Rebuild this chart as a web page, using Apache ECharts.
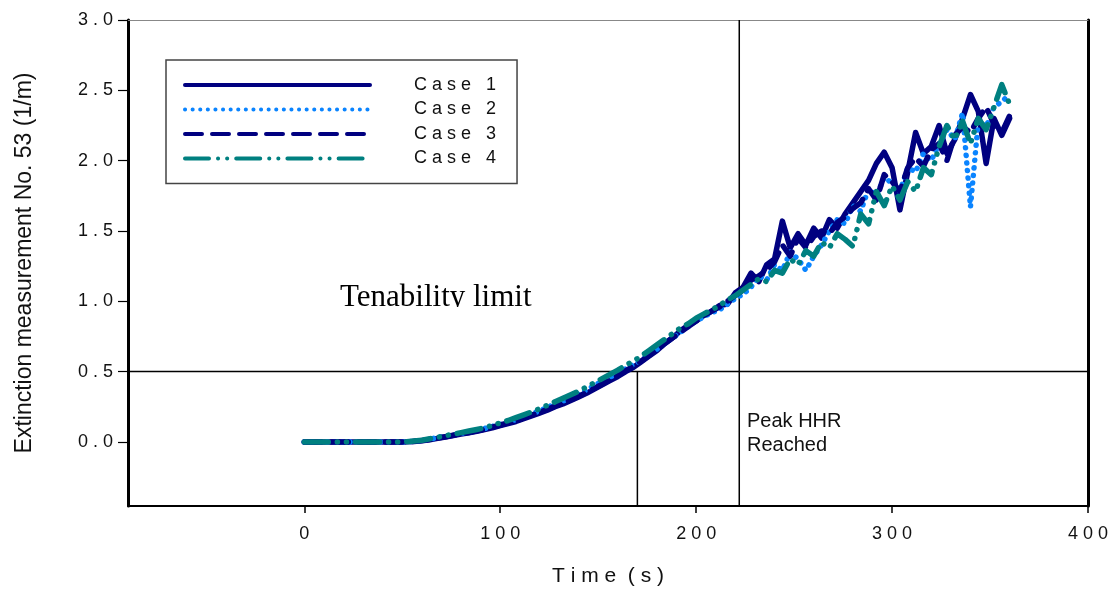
<!DOCTYPE html>
<html>
<head>
<meta charset="utf-8">
<script src="https://cdn.jsdelivr.net/npm/echarts@6/dist/echarts.min.js"></script>
<style>
html,body{margin:0;padding:0;background:#fff;}
#chart{width:1112px;height:592px;}
</style>
</head>
<body>
<div id="chart"></div>
<script>
// ---- data ----
const times = [0,4,8,12,16,20,24,28,32,36,40,44,48,52,56,60,64,68,72,76,80,84,88,92,96,100,104,108,112,116,120,124,128,132,136,140,144,148,152,156,160,164,168,172,176,180,184,188,192,196,200,204,208,212,216,220,224,228,232,236,240,244,248,252,256,260,264,268,272,276,280,284,288,292,296,300,304,308,312,316,320,324,328,332,336,340,344,348,352,356,360];
const case1 = [0,0,0,0,0,0,0,0,0,0,0,0,0,0,
  0.003,0.008,0.015,0.025,0.035,0.045,0.055,0.065,0.075,0.088,0.10,0.115,0.13,0.145,0.165,0.185,0.205,0.225,0.25,0.27,0.295,0.32,0.345,0.375,0.405,0.435,0.465,0.50,0.53,0.57,0.61,0.65,0.70,0.74,0.79,0.83,0.86,0.90,0.93,0.97,0.98,1.06,1.10,1.20,1.14,1.26,1.30,1.57,1.38,1.48,1.40,1.52,1.45,1.58,1.52,1.62,1.70,1.78,1.86,1.98,2.06,1.95,1.65,1.92,2.20,2.05,2.10,2.25,2.05,2.15,2.30,2.47,2.35,1.98,2.30,2.18,2.30];
const case2 = [0,0,0,0,0,0,0,0,0,0,0,0,0,0,
  0.005,0.01,0.02,0.03,0.04,0.05,0.06,0.07,0.08,0.095,0.11,0.125,0.14,0.16,0.18,0.20,0.22,0.245,0.27,0.29,0.315,0.34,0.37,0.40,0.43,0.46,0.49,0.52,0.55,0.58,0.62,0.66,0.70,0.74,0.78,0.82,0.86,0.89,0.92,0.94,0.98,1.02,1.05,
  1.10,1.18,1.15,1.26,1.22,1.35,1.30,1.22,1.32,1.40,1.50,1.58,1.55,1.68,1.64,1.80,1.75,1.88,1.84,1.78,1.95,1.92,2.05,2.00,2.12,2.22,2.15,2.34,1.67,2.28,2.24,2.38,2.42,2.47];
const case3 = [0,0,0,0,0,0,0,0,0,0,0,0,0,0,
  0.004,0.009,0.017,0.027,0.037,0.047,0.057,0.067,0.078,0.09,0.105,0.12,0.135,0.15,0.17,0.19,0.21,0.23,0.255,0.275,0.30,0.325,0.35,0.38,0.41,0.44,0.47,0.505,0.54,0.575,0.615,0.655,0.70,0.74,0.78,0.82,0.86,0.90,0.93,0.96,1.00,1.04,1.08,1.15,1.18,1.22,1.28,1.40,1.32,1.45,1.38,1.46,1.50,1.48,1.56,1.60,1.66,1.70,1.80,1.72,1.90,1.85,1.78,1.95,2.02,1.96,2.08,2.12,2.00,2.18,2.24,2.20,2.30,2.38,2.26,2.20,2.32];
const case4 = [0,0,0,0,0,0,0,0,0,0,0,0,0,0,
  0.006,0.012,0.022,0.033,0.044,0.055,0.066,0.077,0.088,0.10,0.118,0.135,0.152,0.172,0.192,0.213,0.235,0.26,0.285,0.31,0.335,0.36,0.39,0.42,0.45,0.48,0.51,0.545,0.575,0.61,0.65,0.69,0.73,0.77,0.81,0.84,0.88,0.91,0.94,0.97,1.01,1.04,1.08,
  1.12,1.16,1.14,1.22,1.20,1.30,1.26,1.36,1.32,1.42,1.38,1.48,1.44,1.39,1.62,1.55,1.78,1.68,1.82,1.72,1.85,1.78,1.95,1.90,2.10,2.25,2.15,2.28,2.12,2.30,2.22,2.38,2.54,2.40];
const seriesNames = ['Case 1','Case 2','Case 3','Case 4'];
const xTicks = [0,100,200,300,400];
const yTicks = [0,0.5,1.0,1.5,2.0,2.5,3.0];
const xRange = [-90,400];
const yRange = [-0.456,3.0];
const tenabilityLimit = 0.5;
const tenabilityTime = 170;
const peakHHRTime = 222;

// ---- chart ----
const FONT = '"Liberation Sans", Arial, sans-serif';
const spaced = s => String(s).split('').join(' ');
const toPairs = arr => times.map((t,i)=>[t,arr[i]]);

const styles = [
  {color:'#000080', type:'solid'},
  {color:'#0A84FF', type:[0.1,7.5]},
  {color:'#000080', type:[17,10]},
  {color:'#008080', type:[24,9,0.1,9,0.1,9]}
];
const dataSets = [case1,case2,case3,case4];

const series = dataSets.map((d,i)=>({
  name: seriesNames[i],
  type:'line',
  data: toPairs(d),
  symbol:'none',
  showSymbol:false,
  animation:false,
  lineStyle:{color:styles[i].color, width:5.5, type:styles[i].type, cap:'round', join:'round'},
  itemStyle:{color:styles[i].color},
  z: 3+i
}));

const refLine = (pts)=>({
  type:'line', data:pts, symbol:'none', silent:true, animation:false,
  lineStyle:{color:'#000', width:1.5, type:'solid'}, z:2, legendHoverLink:false
});
series.push(refLine([[xRange[0],tenabilityLimit],[xRange[1],tenabilityLimit]]));
series.push(refLine([[tenabilityTime,yRange[0]],[tenabilityTime,tenabilityLimit]]));
series.push(refLine([[peakHHRTime,yRange[0]],[peakHHRTime,yRange[1]]]));

const chart = echarts.init(document.getElementById('chart'), null, {renderer:'canvas'});
chart.setOption({
  backgroundColor:'#fff',
  animation:false,
  grid:{left:128, right:24, top:20, bottom:84},
  legend:{
    data:seriesNames,
    orient:'vertical',
    left:166, top:60,
    padding:[16,21,16,17],
    borderColor:'#444', borderWidth:1.5,
    itemWidth:185, itemHeight:14, itemGap:6.5,
    lineStyle:{width:4},
    itemStyle:{opacity:0},
    textStyle:{fontFamily:FONT, fontSize:18, color:'#111', padding:[0,0,0,39]},
    formatter: n => spaced(n),
    selectedMode:false
  },
  xAxis:[{
    type:'value', min:xRange[0], max:xRange[1],
    name:'T i m e  ( s )', nameLocation:'middle', nameGap:60,
    nameTextStyle:{fontFamily:FONT, fontSize:21, color:'#111'},
    axisLine:{onZero:false, lineStyle:{color:'#000', width:2}},
    axisTick:{show:true, length:7, inside:false, lineStyle:{color:'#000', width:1.5}, customValues:xTicks},
    axisLabel:{customValues:xTicks, formatter:v=>spaced(v), fontFamily:FONT, fontSize:18, color:'#111', margin:19},
    splitLine:{show:false}
  },{
    type:'value', position:'top', min:xRange[0], max:xRange[1],
    axisLine:{show:true, onZero:false, lineStyle:{color:'#888', width:1}},
    axisTick:{show:false}, axisLabel:{show:false}, splitLine:{show:false}
  }],
  yAxis:[{
    type:'value', min:yRange[0], max:yRange[1],
    name:'Extinction measurement No. 53 (1/m)', nameLocation:'middle', nameGap:92,
    nameTextStyle:{fontFamily:FONT, fontSize:23, color:'#111'},
    axisLine:{show:true, onZero:false, lineStyle:{color:'#000', width:3}},
    axisTick:{show:true, length:10, inside:false, lineStyle:{color:'#000', width:1.2}, customValues:yTicks},
    axisLabel:{customValues:yTicks, formatter:v=>spaced(v.toFixed(1)), fontFamily:FONT, fontSize:18, color:'#111', margin:15},
    splitLine:{show:false}
  },{
    type:'value', position:'right', min:yRange[0], max:yRange[1],
    axisLine:{show:true, onZero:false, lineStyle:{color:'#000', width:3}},
    axisTick:{show:false}, axisLabel:{show:false}, splitLine:{show:false}
  }],
  series: series,
  graphic:[
    {type:'text', left:340, top:282, z:50,
      style:{text:'Tenability limit', font:'31px "Liberation Serif", "Times New Roman", serif', fill:'#000'}},
    {type:'rect', shape:{x:330, y:307, width:220, height:14}, style:{fill:'#fff'}, z:51, silent:true},
    {type:'text', left:747, top:409, z:50,
      style:{text:'Peak HHR\nReached', font:'20px "Liberation Sans", Arial, sans-serif', fill:'#111', lineHeight:24}}
  ]
});
</script>
</body>
</html>
